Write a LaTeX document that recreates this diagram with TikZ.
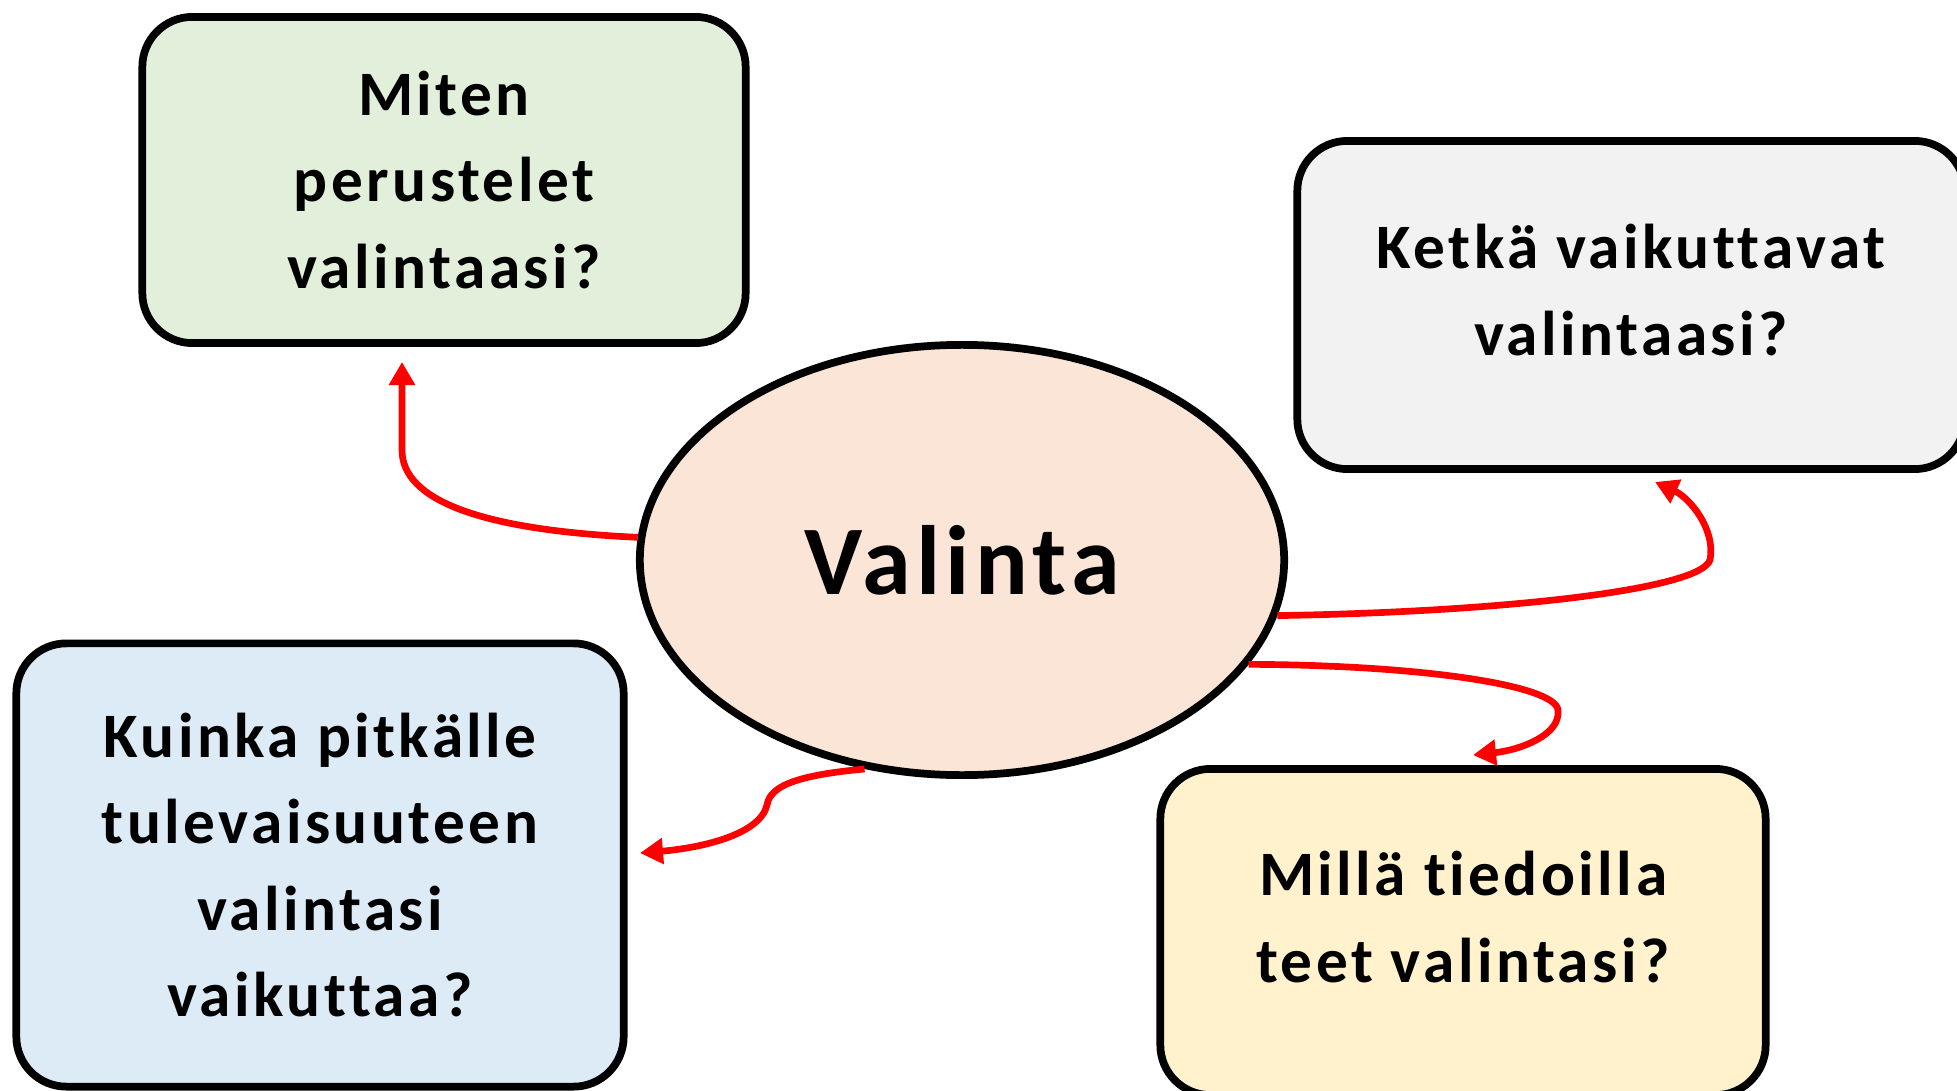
\documentclass[tikz,border=0pt]{standalone}
\usepackage{fontspec}
\setmainfont{Carlito}[LetterSpace=5.5, Ligatures=NoCommon]
\usetikzlibrary{shapes.geometric,arrows.meta}

\definecolor{boxgreen}{HTML}{E2EFDA}
\definecolor{boxgray}{HTML}{F2F2F2}
\definecolor{boxblue}{HTML}{DDEBF7}
\definecolor{boxyellow}{HTML}{FFF2CC}
\definecolor{hubpeach}{HTML}{FBE5D6}

\begin{document}
\begin{tikzpicture}
		    [%%%%%%%%%%%%%%%%%%%%%%%%%%%%%%
		        x=0.01cm, y=-0.01cm,
		        box/.style={rectangle, rounded corners=0.5cm, draw=black, line width=2.2pt,
		            align=center, font=\fontsize{18}{24.5}\selectfont\bfseries},
		        boxtext/.style={align=center, font=\fontsize{18}{24.5}\selectfont\bfseries, yshift=0.15cm},
		        hub/.style={ellipse, draw=black, line width=2.2pt, fill=hubpeach, inner sep=0pt,
		            minimum width=6.44cm, minimum height=4.3cm, font=\fontsize{28}{30}\selectfont\bfseries},
		        link/.style={draw=red, line width=1.9pt, -{Triangle[length=0.23cm,width=0.25cm]}},
		    ]%%%%%%%%%%%%%%%%%%%%%%%%%%%%%%
		\useasboundingbox (0,0) rectangle (1957,1091);
		\clip (0,0) rectangle (1957,1091);

		\node[box, fill=boxgreen, minimum width=6.03cm, minimum height=3.26cm] (miten) at (444,180) {Miten\\perustelet\\valintaasi?};
		\node[box, fill=boxgray, minimum width=6.67cm, minimum height=3.28cm,
		    label={[boxtext]center:{Ketkä vaikuttavat\\valintaasi?}}] (ketka) at (1631,305) {};
		\node[box, fill=boxblue, minimum width=6.07cm, minimum height=4.43cm] (kuinka) at (320,865) {Kuinka pitkälle\\tulevaisuuteen\\valintasi\\vaikuttaa?};
		\node[box, fill=boxyellow, minimum width=6.05cm, minimum height=3.26cm,
		    label={[boxtext]center:{Millä tiedoilla\\teet valintasi?}}] (milla) at (1463,932) {};

		\node[hub] (val) at (962,560) {Valinta};

		\coordinate (tipmiten) at (402,362);
		\coordinate (tipketka) at (1655,482);
		\coordinate (tipmilla) at (1473,755);
		\coordinate (tipkuinka) at (640,853);

		\draw[link] (val.176) .. controls (480,530) and (402,500) .. (402,450) -- (tipmiten);
		\draw[link] (val.-10) .. controls (1500,612) and (1700,590) .. (1710,560) .. controls (1716,530) and (1690,498) .. (tipketka);
		\draw[link] (val.-20) .. controls (1420,665) and (1555,685) .. (1558,710) .. controls (1561,735) and (1520,750) .. (tipmilla);
		\draw[link] (val.245) .. controls (800,775) and (770,785) .. (767,805) .. controls (760,835) and (700,848) .. (tipkuinka);

		\end{tikzpicture}
\end{document}
